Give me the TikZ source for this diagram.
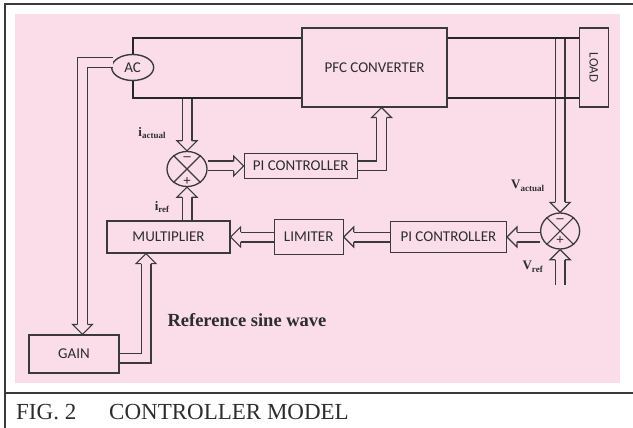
\documentclass[tikz,border=0pt]{standalone}
\usepackage{fontspec}
\setmainfont{Liberation Serif}
\newfontfamily\boxfont{Carlito}
\usetikzlibrary{shapes.geometric, arrows.meta, positioning, calc, decorations.markings}
\definecolor{pinkbg}{RGB}{250,221,233}
\definecolor{linegray}{RGB}{58,58,58}
\definecolor{textgray}{RGB}{45,45,45}
\newcommand{\ctrlsub}[2]{\textbf{#1}\raisebox{-2.5pt}{\fontsize{9}{10}\selectfont\bfseries #2}}

\begin{document}
\begin{tikzpicture}[
  x=1pt, y=1pt,
  block/.style={draw=linegray,line width=1.2pt,fill=pinkbg,inner sep=0pt,align=center,text=textgray,font=\boxfont\fontsize{15}{18}\selectfont},
  junction/.style={draw=linegray,ellipse,line width=1.3pt,fill=pinkbg,minimum width=40pt,minimum height=35pt,inner sep=0pt},
  sign/.style={inner sep=0pt,text=textgray,font=\fontsize{14}{15}\selectfont\bfseries},
  lab/.style={inner sep=0pt,text=textgray,font=\fontsize{13}{15}\selectfont},
  wire/.style={draw=black!85,line width=2.4pt},
  frame/.style={draw=linegray,line width=1.3pt},
  hollow/.style={draw=linegray,line width=11pt,shorten >=10pt,
    postaction={draw=pinkbg,line width=8.6pt,shorten >=10pt},
    postaction={decorate,decoration={markings,mark=at position 1 with
      {\draw[draw=linegray,fill=pinkbg,line width=1.2pt,shorten >=0pt,shorten <=0pt]
        (-10pt,4.9pt) -- (-10pt,10pt) -- (0pt,0pt) -- (-10pt,-10pt) -- (-10pt,-4.9pt);}}}}
]
  \useasboundingbox (0,0) rectangle (633,-428);
  \fill[pinkbg] (15,-14) rectangle (620,-383);
  \draw[frame] (633,-4) -- (5,-4) -- (5,-428);
  \draw[frame] (5,-393) -- (633,-393);

  % power stage
  \node[block,minimum width=145pt,minimum height=79pt] (pfc) at (374.5,-67.5) {PFC CONVERTER};
  \node[block,minimum width=29pt,minimum height=79pt,right=131pt of pfc,font=\boxfont\fontsize{13}{15}\selectfont] (load) {\rotatebox{-90}{LOAD}};
  \node[block,ellipse,line width=1.4pt,minimum width=42pt,minimum height=26pt,left=147pt of pfc] (ac) {AC};
  \coordinate (wtl) at ([yshift=29.5pt]pfc.west);
  \coordinate (wbl) at ([yshift=-30.5pt]pfc.west);
  \coordinate (wtr) at ([yshift=29.5pt]pfc.east);
  \coordinate (wbr) at ([yshift=-30.5pt]pfc.east);

  % current loop
  \node[junction] (sum1) at (187,-169) {};
  \node[block,minimum width=113pt,minimum height=25pt,right=36pt of sum1,yshift=3pt] (pi1) {PI CONTROLLER};
  \node[block,minimum width=123pt,minimum height=32pt] (mult) at (168.5,-237) {MULTIPLIER};
  \node[block,minimum width=69pt,minimum height=35pt,right=43pt of mult] (lim) {LIMITER};
  \node[block,minimum width=116pt,minimum height=31pt,right=46pt of lim] (pi2) {PI CONTROLLER};
  \node[junction,minimum width=39pt,minimum height=36pt,right=33pt of pi2,yshift=6pt] (sum2) {};
  \coordinate[below=35pt of sum2.south] (vref);
  \node[block,minimum width=90pt,minimum height=38pt] (gain) at (74,-354) {GAIN};

  % junction marks
  \draw[linegray,line width=1.1pt] (sum1.135) -- (sum1.-45) (sum1.45) -- (sum1.-135);
  \draw[linegray,line width=1.1pt] (sum2.135) -- (sum2.-45) (sum2.45) -- (sum2.-135);
  \node[sign] (s1minus) at ([yshift=-8pt]sum1.north) {\textendash};
  \node[sign] (s1plus) at ([yshift=6pt]sum1.south) {+};
  \node[sign] (s2minus) at ([yshift=-8pt]sum2.north) {\textendash};
  \node[sign] (s2plus) at ([yshift=9pt]sum2.south) {+};

  % labels
  \node[lab] (iact) at ([xshift=-35pt,yshift=36pt]sum1) {\ctrlsub{i}{actual}};
  \node[lab] (iref) at ([xshift=-25pt,yshift=-38pt]sum1) {\ctrlsub{i}{ref}};
  \node[lab] (vact) at ([xshift=-32.5pt,yshift=45pt]sum2) {\ctrlsub{V}{actual}};
  \node[lab] (vreflab) at ([xshift=-27.5pt,yshift=-36pt]sum2) {\ctrlsub{V}{ref}};
  \node[inner sep=0pt,text=textgray,font=\fontsize{18.5}{20}\selectfont\bfseries] (refsine) at (247,-320) {Reference sine wave};
  \node[anchor=base west,inner sep=0pt,text=textgray,font=\fontsize{23}{26}\selectfont] (caption) at (16,-419) {FIG. 2\hspace{33pt}CONTROLLER MODEL};

  % signal paths
  \draw[hollow] ([xshift=2pt,yshift=5pt]ac.west) -| ([xshift=8.5pt]gain.north);
  \draw[hollow] (sum1.north |- wbl) -- (sum1.north);
  \draw[hollow] (sum1.south |- mult.north) -- (sum1.south);
  \draw[hollow] (pi1.west -| sum1.east) -- (pi1.west);
  \draw[hollow] (pi1.east) -| ([xshift=7pt]pfc.south);
  \draw[hollow] (sum2.north |- wtr) -- (sum2.north);
  \draw[hollow] (vref) -- (sum2.south);
  \draw[hollow] (sum2.west |- pi2.east) -- (pi2.east);
  \draw[hollow] (pi2.west) -- (pi2.west -| lim.east);
  \draw[hollow] (lim.west) -- (lim.west -| mult.east);
  \draw[hollow] ([yshift=-4pt]gain.east) -| ([xshift=-22.5pt]mult.south);

  % power wires
  \draw[wire] (ac.north) |- (wtl);
  \draw[wire] (ac.south) |- (wbl);
  \draw[wire] (wtr) -- (wtr -| load.west);
  \draw[wire] (wbr) -- (wbr -| load.west);
\end{tikzpicture}
\end{document}
